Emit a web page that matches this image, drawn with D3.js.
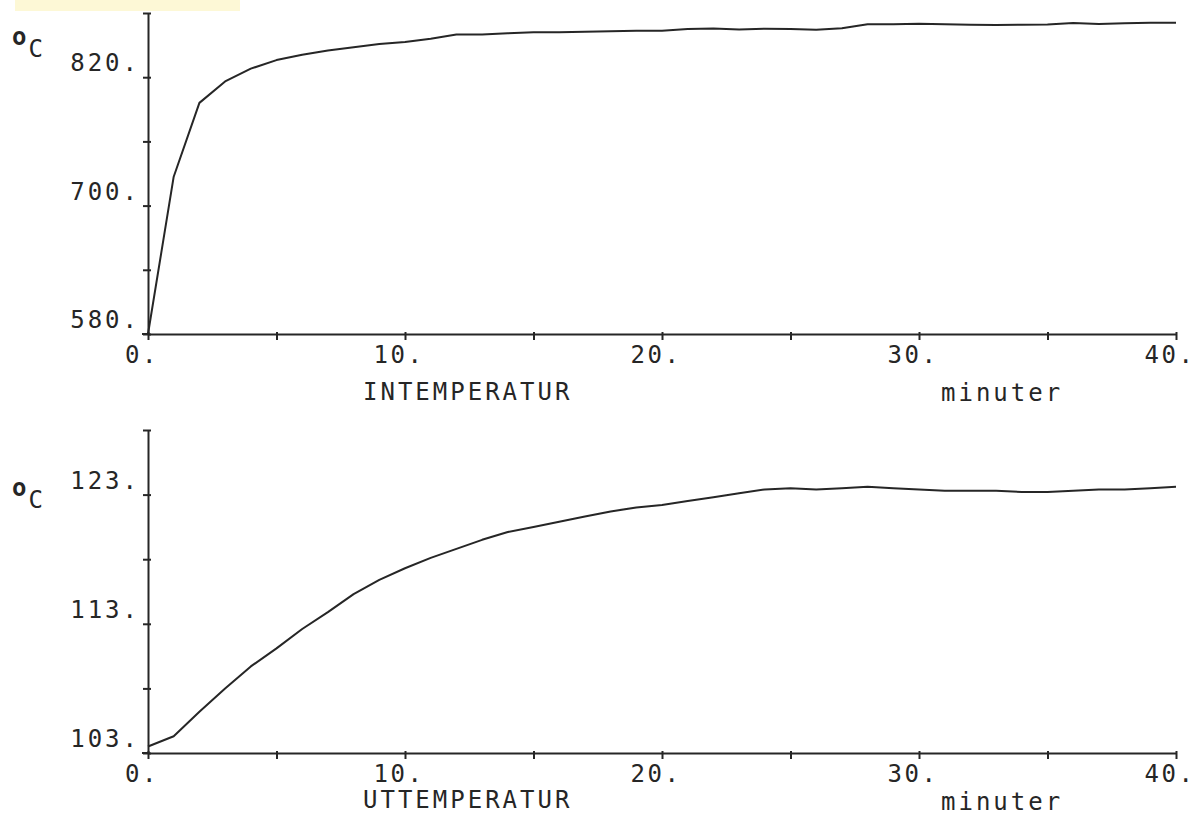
<!DOCTYPE html>
<html>
  <head>
    <meta charset="utf-8">
    <title>Intemperatur / uttemperatur</title>
    <script src="https://cdn.jsdelivr.net/npm/d3@7"></script>
    <style>
      body { margin: 0; background: #fff; }
      svg { display: block; }
      .lbl { font-family: "DejaVu Sans Mono", monospace; font-size: 24px; letter-spacing: 3px; fill: #262626; }
      .xlbl { letter-spacing: 2.5px; }
      .axis path, .axis line { stroke: #262626; stroke-width: 2; }
      .curve { fill: none; stroke: #262626; stroke-width: 2; stroke-linejoin: round; }
    </style>
  </head>
  <body>
    <svg id="chart" width="1196" height="815"></svg>
    <script>
      // data
      const minutes = [0,1,2,3,4,5,6,7,8,9,10,11,12,13,14,15,16,17,18,19,20,
        21,22,23,24,25,26,27,28,29,30,31,32,33,34,35,36,37,38,39,40];
      const inTemp = [580,727,796,816,828,836,841,845,848,851,853,856,860,860,861,862,862,862.5,863,863.5,863.5,
        865,865.5,864.5,865.3,865,864.4,865.7,869.4,869.5,870,869.5,869,868.8,869,869.3,870.7,869.7,870.5,871,871];
      const outTemp = [103.5,104.3,106.2,108.0,109.7,111.1,112.6,113.9,115.3,116.4,117.3,118.1,118.8,119.5,120.1,120.5,120.9,121.3,121.7,122.0,122.2,
        122.5,122.8,123.1,123.4,123.5,123.4,123.5,123.6,123.5,123.4,123.3,123.3,123.3,123.2,123.2,123.3,123.4,123.4,123.5,123.6];
      const xTicks = [0,5,10,15,20,25,30,35,40];
      const xLabels = [0,10,20,30,40];
      const inTicks = [580,640,700,760,820,880];
      const inLabels = [580,700,820];
      const outTicks = [103,108,113,118,123,128];
      const outLabels = [103,113,123];
      const titles = ["INTEMPERATUR", "UTTEMPERATUR"];

      svg = d3.select("#chart");

      // faint yellow scan mark at top left
      svg.append("rect").attr("x", 15).attr("y", 0).attr("width", 225).attr("height", 11)
        .attr("fill", "#fdf8d6");

      panels = [
        { values: inTemp, ticks: inTicks, labels: inLabels, title: titles[0],
          top: 13, bottom: 334, tickBase: 363, titleBase: 400, unitBase: 57, minBase: 401 },
        { values: outTemp, ticks: outTicks, labels: outLabels, title: titles[1],
          top: 430, bottom: 753, tickBase: 782, titleBase: 808, unitBase: 508, minBase: 810 }
      ];

      x = d3.scaleLinear().domain([0, 40]).range([148, 1176]);

      panels.forEach(function(p) {
        y = d3.scaleLinear().domain(d3.extent(p.ticks)).range([p.bottom, p.top]);

        // axes: ticks only, labels drawn below by hand
        svg.append("g").attr("class", "axis")
          .attr("transform", "translate(0," + p.bottom + ")")
          .call(d3.axisBottom(x).tickValues(xTicks).tickSize(6).tickSizeOuter(0).tickFormat(""))
          .call(g => g.selectAll(".tick line").attr("y1", -2));
        svg.append("line").attr("class", "axis")
          .attr("x1", 142).attr("x2", 148).attr("y1", p.bottom).attr("y2", p.bottom)
          .attr("stroke", "#262626").attr("stroke-width", 2);
        svg.append("g").attr("class", "axis")
          .attr("transform", "translate(148,0)")
          .call(d3.axisLeft(y).tickValues(p.ticks).tickSize(5).tickSizeOuter(0).tickFormat(""))
          .call(g => g.selectAll(".tick line").attr("x1", 3));

        // tick labels
        svg.append("g").selectAll("text").data(xLabels).join("text")
          .attr("class", "lbl xlbl")
          .attr("x", d => x(d) - 6)
          .attr("y", p.tickBase)
          .attr("text-anchor", "middle")
          .text(d => d + ".");
        svg.append("g").selectAll("text").data(p.labels).join("text")
          .attr("class", "lbl")
          .attr("x", 140)
          .attr("y", d => y(d) - 6)
          .attr("text-anchor", "end")
          .text(d => d + ".");

        // unit, title, minuter
        unit = svg.append("text").attr("class", "lbl").attr("x", 12).attr("y", p.unitBase);
        unit.append("tspan").attr("dy", -12).style("letter-spacing", "0px").style("font-weight", "bold").text("o");
        unit.append("tspan").attr("dy", 12).attr("dx", 2).text("C");
        svg.append("text").attr("class", "lbl")
          .attr("x", 363).attr("y", p.titleBase).text(p.title);
        svg.append("text").attr("class", "lbl")
          .attr("x", 941).attr("y", p.minBase).text("minuter");

        // curve
        line = d3.line().x((d, i) => x(minutes[i])).y(d => y(d));
        svg.append("path").datum(p.values).attr("class", "curve").attr("d", line);
      });
    </script>
  </body>
</html>
